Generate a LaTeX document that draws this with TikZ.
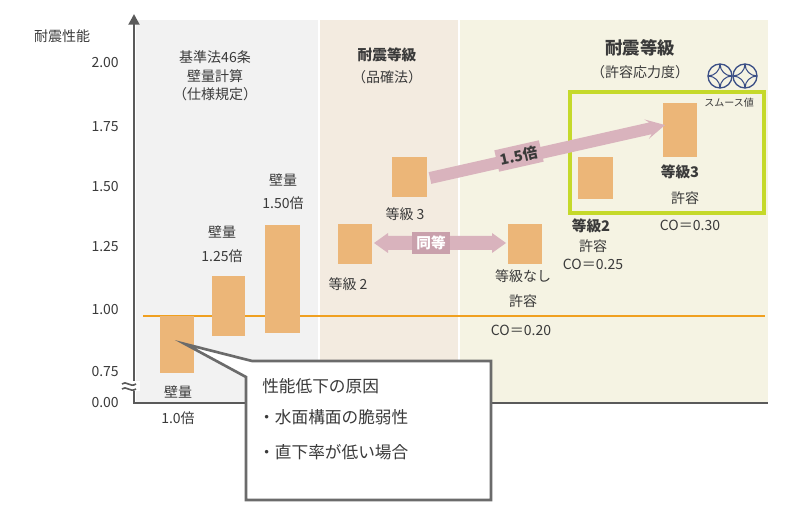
\documentclass[tikz,border=0pt]{standalone}
\usepackage{fontspec}
\setmainfont{Noto Sans CJK JP}
\usetikzlibrary{arrows.meta}
\definecolor{axis}{HTML}{5A5A5A}
\definecolor{barc}{HTML}{ECB678}
\definecolor{lineo}{HTML}{F0A020}
\definecolor{pa}{HTML}{F2F2F2}
\definecolor{pb}{HTML}{F3EBE0}
\definecolor{pc}{HTML}{F5F3E3}
\definecolor{lime}{HTML}{C5D92A}
\definecolor{pink}{HTML}{D9B3BD}
\definecolor{pinkd}{HTML}{C9A0AC}
\definecolor{txt}{HTML}{3A3A3A}
\definecolor{navy}{HTML}{3B4F86}
\tikzset{
 bar/.style={fill=barc,draw=none},
 lbl/.style={text=txt,font=\fontsize{10.5}{12}\selectfont,inner sep=0},
 blbl/.style={lbl,font=\fontsize{11}{12}\selectfont\bfseries},
 tick/.style={lbl,anchor=east},
}
\begin{document}
\begin{tikzpicture}[x=0.75pt,y=-0.75pt]
\useasboundingbox (0,0) rectangle (800,520);
\fill[white] (0,0) rectangle (800,520);
% panels
\fill[pa] (136,20) rectangle (318,403);
\fill[pb] (320,20) rectangle (458,403);
\fill[pc] (460,20) rectangle (768,403);
% axes
\draw[axis,line width=2.2pt,-{Triangle[length=8pt,width=8pt]}] (134,403) -- (134,14);
\draw[axis,line width=2.2pt] (133,403) -- (768,403);
\fill[white] (126,381) rectangle (140,391);
\draw[axis,line width=1.2pt] (122,384) .. controls (126,380) and (130,388) .. (136,384);
\draw[axis,line width=1.2pt] (122,389) .. controls (126,385) and (130,393) .. (136,389);
% y labels
\node[lbl] (yt) at (62,36) {耐震性能};
\foreach \v/\y in {2.00/63,1.75/127,1.50/187,1.25/247,1.00/310,0.75/372,0.00/403}
  \node[tick] at (119,\y) {\v};
% orange line
\draw[lineo,line width=2pt] (143,316) -- (765,316);
% bars
\path[bar] (160,316) rectangle (194,373);
\path[bar] (212,276) rectangle (245,336);
\path[bar] (265,225) rectangle (300,333);
\path[bar] (338,224) rectangle (372,264);
\path[bar] (392,157) rectangle (427,197);
\path[bar] (508,224) rectangle (542,264);
\path[bar] (578,157) rectangle (613,199);
\path[bar] (663,103) rectangle (697,157);
% green box
\draw[lime,line width=2.4pt] (570,92) rectangle (764,213);
% arrows
\fill[pink] (374,243) -- (388,233) -- (388,236) -- (492,236) -- (492,233) -- (506,243) -- (492,253) -- (492,250) -- (388,250) -- (388,253) -- cycle;
\node[fill=pinkd,text=white,font=\fontsize{11}{12}\selectfont\bfseries,inner sep=3pt] (eq) at (431,243) {同等};
\begin{scope}[shift={(430,178)},rotate=12.7]
\fill[pink] (0,-6) -- (226,-6) -- (222,-10) -- (241,0) -- (222,10) -- (226,6) -- (0,6) -- cycle;
\end{scope}
\node[fill=pink,text=txt,font=\fontsize{11}{12}\selectfont\bfseries,inner sep=3pt,rotate=12.7] (x15) at (519,156) {1.5倍};
% headings
\node[lbl,align=center] (h1) at (215,76) {基準法46条\\[2pt]壁量計算\\[2pt]（仕様規定）};
\node[blbl] (h2) at (387,55) {耐震等級};
\node[lbl] (h2b) at (387,77) {（品確法）};
\node[lbl,font=\fontsize{13}{14}\selectfont\bfseries] (h3) at (640,48) {耐震等級};
\node[lbl] (h3b) at (640,72) {（許容応力度）};
\foreach \cx in {720,745}{
 \begin{scope}
 \clip (\cx,76) circle (12);
 \foreach \dx/\dy in {1/1,1/-1,-1/1,-1/-1}
   \draw[navy,line width=0.8pt] (\cx+12*\dx,76+12*\dy) circle (12);
 \end{scope}
 \draw[navy,line width=1pt] (\cx,76) circle (12);
}
\node[lbl,font=\fontsize{7.5}{8}\selectfont] (sm) at (729,103) {スムース値};
% bar labels
\node[lbl] at (178,392) {壁量};
\node[lbl] at (178,418) {1.0倍};
\node[lbl] at (222,232) {壁量};
\node[lbl] at (222,256) {1.25倍};
\node[lbl] at (283,180) {壁量};
\node[lbl] at (283,203) {1.50倍};
\node[lbl] at (405,214) {等級 3};
\node[lbl] at (348,284) {等級 2};
\node[lbl] at (523,276) {等級なし};
\node[lbl] at (523,301) {許容};
\node[lbl] at (521,330) {CO＝0.20};
\node[blbl] at (591,226) {等級2};
\node[lbl] at (593,246) {許容};
\node[lbl] at (593,264) {CO＝0.25};
\node[blbl] at (680,172) {等級3};
\node[lbl] at (685,198) {許容};
\node[lbl] at (690,225) {CO＝0.30};
% callout
\draw[fill=white,draw=axis!90,line width=2pt,line join=miter]
 (185,344) -- (252,361) -- (491,361) -- (491,500) -- (246,500) -- (246,377) -- cycle;
\node[lbl,anchor=west,font=\fontsize{12.5}{14}\selectfont] (c1) at (262,386) {性能低下の原因};
\node[lbl,anchor=west,font=\fontsize{12.5}{14}\selectfont] (c2) at (258,417) {・水面構面の脆弱性};
\node[lbl,anchor=west,font=\fontsize{12.5}{14}\selectfont] (c3) at (258,452) {・直下率が低い場合};
\end{tikzpicture}
\end{document}
